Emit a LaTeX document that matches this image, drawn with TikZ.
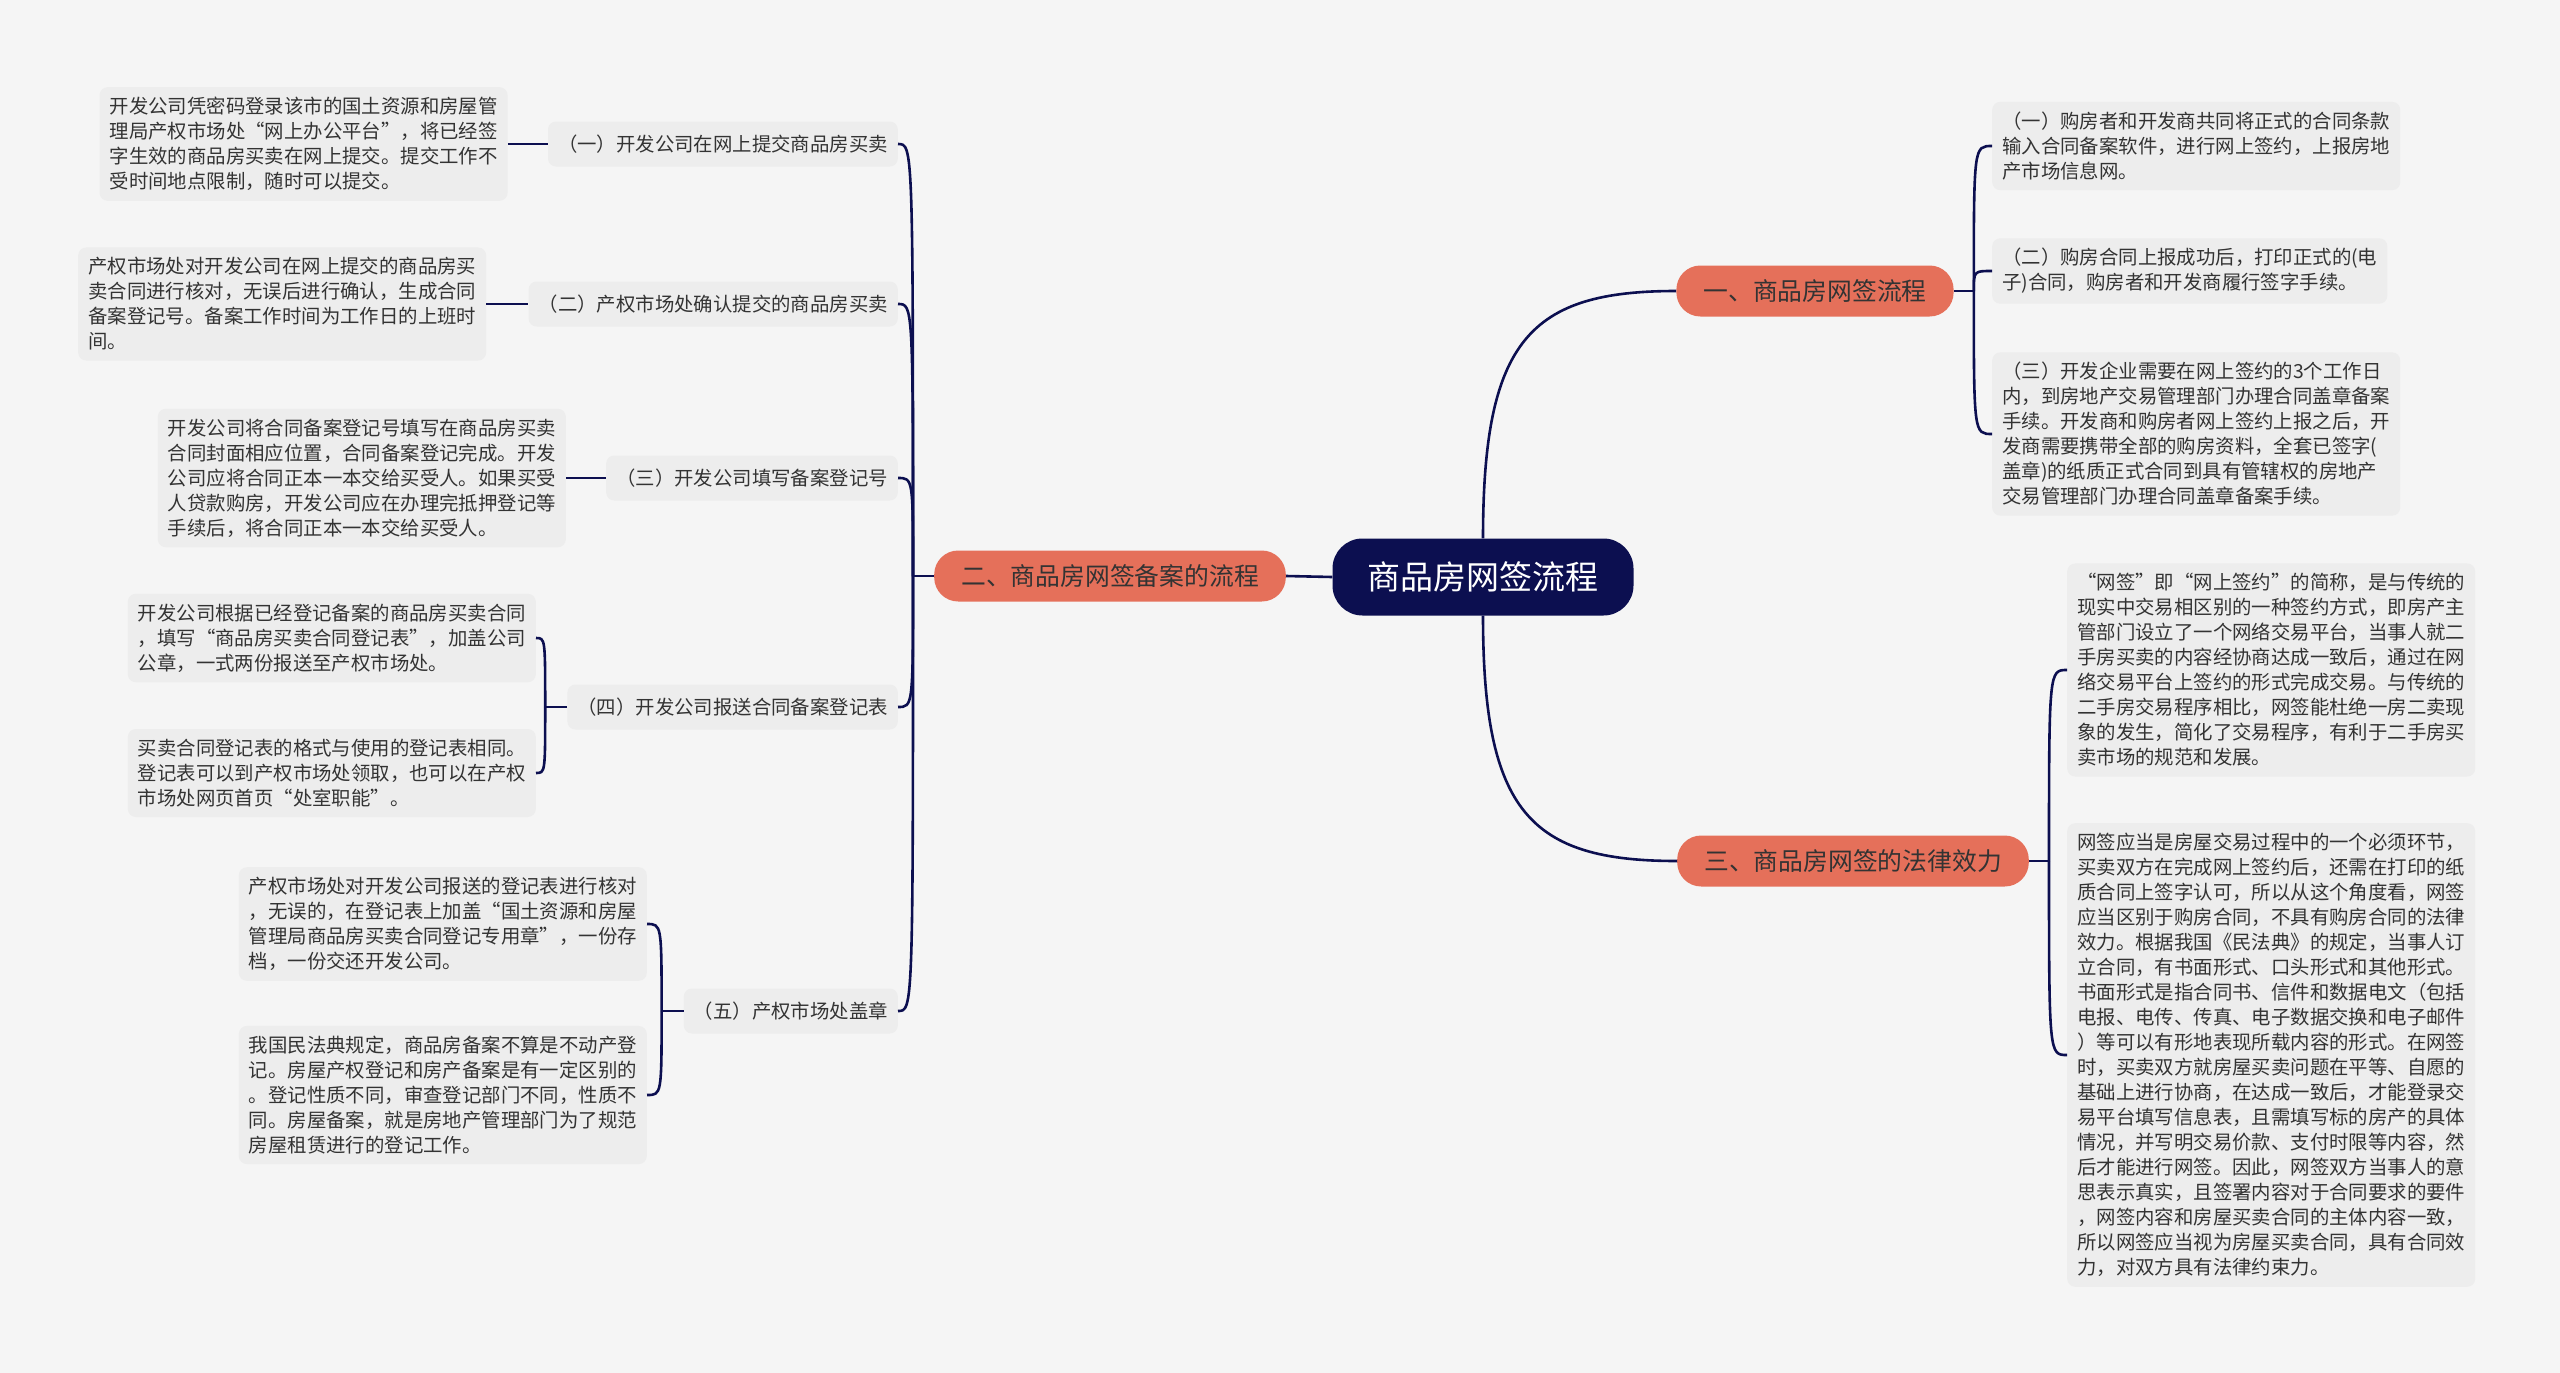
\documentclass[tikz,border=0pt]{standalone}
\usepackage{fontspec}
\newfontfamily\cjk{Noto Sans CJK SC}
\usepackage{tikz}
\usetikzlibrary{positioning}
\usepackage{xcolor}
\definecolor{bgcol}{HTML}{F5F5F5}
\definecolor{leafcol}{HTML}{EDEDED}
\definecolor{linecol}{HTML}{0C0F50}
\definecolor{coralcol}{HTML}{E5705A}
\definecolor{inkcol}{HTML}{333333}
\newcommand\leaffont{\cjk\fontsize{19.4}{25}\selectfont}

\begin{document}
\begin{tikzpicture}[x=1pt, y=-1pt,
		rootnode/.style={fill=linecol, text=white, rounded corners=30pt, minimum height=77pt, inner xsep=35pt, font=\cjk\fontsize{33}{40}\selectfont},
		branch/.style={fill=coralcol, text=inkcol, rounded corners=24pt, minimum height=51pt, inner xsep=27pt, font=\cjk\fontsize{24.8}{30}\selectfont},
		sublabel/.style={fill=leafcol, text=inkcol, rounded corners=8pt, minimum height=45pt, inner xsep=10pt, font=\leaffont},
		leaf/.style={fill=leafcol, text=inkcol, rounded corners=8pt, inner sep=10pt, align=left, font=\leaffont},
		link/.style={draw=linecol, line width=2.6pt}]
	\fill[bgcol] (0,0) rectangle (2560,1373);
	% centre and main branches
	\node[rootnode] (root) at (1483,577) {商品房网签流程};
	\node[branch] (b1) at (1815,291) {一、商品房网签流程};
	\node[branch] (b2) at (1110,576) {二、商品房网签备案的流程};
	\node[branch] (b3) at (1853,861) {三、商品房网签的法律效力};
	% left side
	\node[sublabel, anchor=east] (l1) at (898,144) {（一）开发公司在网上提交商品房买卖};
	\node[sublabel, anchor=east] (l2) at (898,304) {（二）产权市场处确认提交的商品房买卖};
	\node[sublabel, anchor=east] (l3) at (898,478) {（三）开发公司填写备案登记号};
	\node[sublabel, anchor=east] (l4) at (898,707) {（四）开发公司报送合同备案登记表};
	\node[sublabel, anchor=east] (l5) at (898,1011) {（五）产权市场处盖章};
	\node[leaf, left=40pt of l1] (t1) {开发公司凭密码登录该市的国土资源和房屋管\\理局产权市场处“网上办公平台”，将已经签\\字生效的商品房买卖在网上提交。提交工作不\\受时间地点限制，随时可以提交。};
	\node[leaf, left=42pt of l2] (t2) {产权市场处对开发公司在网上提交的商品房买\\卖合同进行核对，无误后进行确认，生成合同\\备案登记号。备案工作时间为工作日的上班时\\间。};
	\node[leaf, left=40pt of l3] (t3) {开发公司将合同备案登记号填写在商品房买卖\\合同封面相应位置，合同备案登记完成。开发\\公司应将合同正本一本交给买受人。如果买受\\人贷款购房，开发公司应在办理完抵押登记等\\手续后，将合同正本一本交给买受人。};
	\node[leaf, anchor=east] (t4a) at (536,638) {开发公司根据已经登记备案的商品房买卖合同\\，填写“商品房买卖合同登记表”，加盖公司\\公章，一式两份报送至产权市场处。};
	\node[leaf, anchor=east] (t4b) at (536,773) {买卖合同登记表的格式与使用的登记表相同。\\登记表可以到产权市场处领取，也可以在产权\\市场处网页首页“处室职能”。};
	\node[leaf, anchor=east] (t5a) at (647,924) {产权市场处对开发公司报送的登记表进行核对\\，无误的，在登记表上加盖“国土资源和房屋\\管理局商品房买卖合同登记专用章”，一份存\\档，一份交还开发公司。};
	\node[leaf, anchor=east] (t5b) at (647,1095) {我国民法典规定，商品房备案不算是不动产登\\记。房屋产权登记和房产备案是有一定区别的\\。登记性质不同，审查登记部门不同，性质不\\同。房屋备案，就是房地产管理部门为了规范\\房屋租赁进行的登记工作。};
	% right side
	\node[leaf, anchor=west] (r1) at (1992,146) {（一）购房者和开发商共同将正式的合同条款\\输入合同备案软件，进行网上签约，上报房地\\产市场信息网。};
	\node[leaf, anchor=west] (r2) at (1992,271) {（二）购房合同上报成功后，打印正式的(电\\子)合同，购房者和开发商履行签字手续。};
	\node[leaf, anchor=west] (r3) at (1992,434) {（三）开发企业需要在网上签约的3个工作日\\内，到房地产交易管理部门办理合同盖章备案\\手续。开发商和购房者网上签约上报之后，开\\发商需要携带全部的购房资料，全套已签字(\\盖章)的纸质正式合同到具有管辖权的房地产\\交易管理部门办理合同盖章备案手续。};
	\node[leaf, anchor=west] (r4) at (2067,670) {“网签”即“网上签约”的简称，是与传统的\\现实中交易相区别的一种签约方式，即房产主\\管部门设立了一个网络交易平台，当事人就二\\手房买卖的内容经协商达成一致后，通过在网\\络交易平台上签约的形式完成交易。与传统的\\二手房交易程序相比，网签能杜绝一房二卖现\\象的发生，简化了交易程序，有利于二手房买\\卖市场的规范和发展。};
	\node[leaf, anchor=west] (r5) at (2067,1055) {网签应当是房屋交易过程中的一个必须环节，\\买卖双方在完成网上签约后，还需在打印的纸\\质合同上签字认可，所以从这个角度看，网签\\应当区别于购房合同，不具有购房合同的法律\\效力。根据我国《民法典》的规定，当事人订\\立合同，有书面形式、口头形式和其他形式。\\书面形式是指合同书、信件和数据电文（包括\\电报、电传、传真、电子数据交换和电子邮件\\）等可以有形地表现所载内容的形式。在网签\\时，买卖双方就房屋买卖问题在平等、自愿的\\基础上进行协商，在达成一致后，才能登录交\\易平台填写信息表，且需填写标的房产的具体\\情况，并写明交易价款、支付时限等内容，然\\后才能进行网签。因此，网签双方当事人的意\\思表示真实，且签署内容对于合同要求的要件\\，网签内容和房屋买卖合同的主体内容一致，\\所以网签应当视为房屋买卖合同，具有合同效\\力，对双方具有法律约束力。};
	% connectors
	\draw[link] (root.west) -- (b2.east);
	\draw[link] (root.north) .. controls (1483,340) and (1530,291) .. (b1.west);
	\draw[link] (root.south) .. controls (1483,812) and (1530,861) .. (b3.west);
	\coordinate (k2) at ([xshift=-21pt]b2.west);
	\draw[link] (b2.west) -- (k2);
	\foreach \n in {l1,l2,l3,l4,l5}
		\draw[link] (k2) .. controls (k2 |- \n.east) .. (\n.east);
	\draw[link] (t1.east) -- (l1.west);
	\draw[link] (t2.east) -- (l2.west);
	\draw[link] (t3.east) -- (l3.west);
	\coordinate (k4) at ([xshift=-22pt]l4.west);
	\draw[link] (l4.west) -- (k4);
	\foreach \n in {t4a,t4b}
		\draw[link] (k4) .. controls (k4 |- \n.east) .. (\n.east);
	\coordinate (k5) at ([xshift=-22pt]l5.west);
	\draw[link] (l5.west) -- (k5);
	\foreach \n in {t5a,t5b}
		\draw[link] (k5) .. controls (k5 |- \n.east) .. (\n.east);
	\coordinate (k1) at ([xshift=20pt]b1.east);
	\draw[link] (b1.east) -- (k1);
	\foreach \n in {r1,r2,r3}
		\draw[link] (k1) .. controls (k1 |- \n.west) .. (\n.west);
	\coordinate (k3) at ([xshift=20pt]b3.east);
	\draw[link] (b3.east) -- (k3);
	\foreach \n in {r4,r5}
		\draw[link] (k3) .. controls (k3 |- \n.west) .. (\n.west);
\end{tikzpicture}
\end{document}
